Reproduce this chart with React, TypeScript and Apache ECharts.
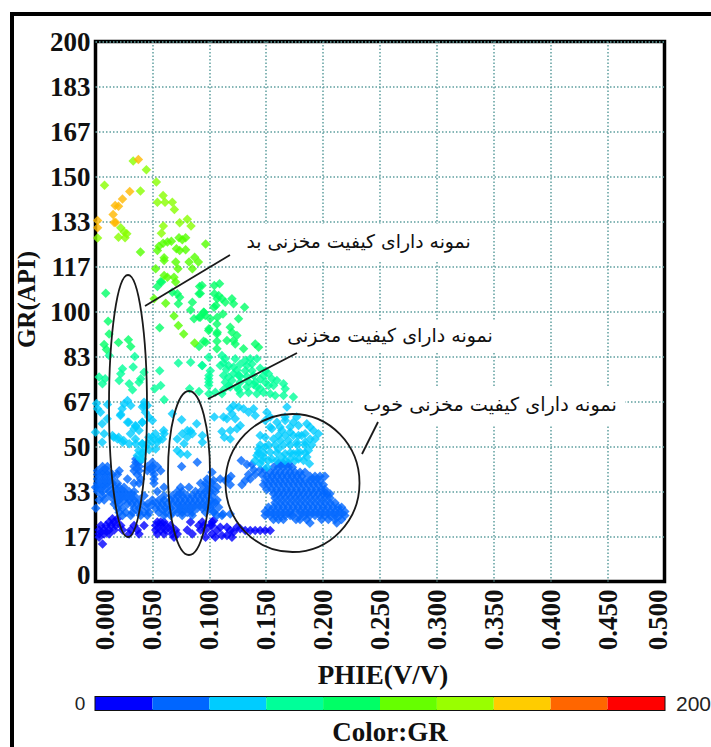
import React, { useEffect, useRef } from "react";
import * as echarts from "echarts";

const xLabelDigits = 3;
const yTickLabels = ["0", "17", "33", "50", "67", "83", "100", "117", "133", "150", "167", "183", "200"];
const colorBarColors = ["#0000ff", "#0066ff", "#00ccff", "#00ff99", "#00ff66", "#66ff00", "#99ff00", "#ffcc00", "#ff6600", "#ff0000"];
const colorBarStep = 20;
const texts = {
  bad: "نمونه دارای کیفیت مخزنی بد",
  mid: "نمونه دارای کیفیت مخزنی",
  good: "نمونه دارای کیفیت مخزنی خوب",
};

const orangePts = [[.0377,156.3],[.0301,144.4],[.0237,141.7],[.0173,139.3],[.0202,139],[.0155,135.9],[.0178,133],[.0164,133],[.0018,133.7],[.0018,131]];
const limeHighPts = [[.0331,155.7],[.0447,152.5],[.0535,148],[.0079,146.8],[.0395,144.6],[.0594,143],[.0544,140.5],[.0611,140.5],[.0675,140.5],[.0693,137.8],[.0807,134.2],[.074,132.9],[.0839,131.7],[.0596,131.7],[.0579,129],[.0222,131],[.0252,129.4],[.0275,128.8],[.026,127.3],[.0202,127.5],[.0018,127.2]];
const limePts = [[.0395,122],[.0734,127.3],[.0763,126.6],[.0792,127.3],[.0667,126],[.0632,125.7],[.0594,125.3],[.0558,124.2],[.0544,122.6],[.0968,125],[.0711,123.2],[.0792,122.9],[.074,122.6],[.0603,119.9],[.0603,118.9],[.0705,118.3],[.0822,118.3],[.0871,120.1],[.0904,118.3],[.0851,115.8],[.0725,115.8],[.0529,115.8],[.0603,113.3],[.0632,112.7],[.069,112.7],[.0515,104.7],[.0617,103.1],[.069,98.3],[.0728,94.8],[.0775,91.7],[.0871,88.3],[.0704,110.9]];
const greenPts = [[.0571,111],[.009,106.8],[.0544,109.3],[.0582,110.9],[.0719,106.6],[.0675,107.1],[.074,105.3],[.0728,102.9],[.091,106.6],[.0915,109.3],[.0851,103.4],[.0836,100.6],[.0953,99.7],[.091,97.9],[.0866,97.3],[.107,104.7],[.1041,101.6],[.107,97.9],[.0111,96.4],[.012,91.7],[.0564,94],[.0997,93.6],[.107,92.3],[.0289,89.5],[.0202,88.5],[.0076,87.8],[.0096,85.9],[.0968,88.6],[.031,87],[.091,87],[.109,110.3],[.1044,109.6],[.1044,106.6],[.1082,105.9],[.1111,104.7],[.114,103.4],[.1199,104.7],[.1213,102.9],[.0936,109.6],[.0921,106.7],[.1059,102.2],[.131,101.6],[.095,99.7],[.0921,97.9],[.0965,98.5],[.112,99.1],[.1257,97.3],[.1009,97.3],[.1067,95.4],[.1184,94.2],[.1199,92.3],[.0994,93],[.1067,91.7],[.1243,91.1],[.1213,89.3],[.095,89],[.1067,89],[.1155,89.3],[.1228,88],[.1404,88],[.1433,86.8],[.1301,86.2],[.1067,86.2]];
const aquaPts = [[.012,83.7],[.0345,83.3],[.0728,80.9],[.0836,81.2],[.0939,80],[.0237,78.8],[.0331,79.4],[.0222,76.9],[.0564,78.1],[.0427,77.5],[.0397,75.1],[.0032,75.7],[.0296,73.2],[.0383,73.8],[.0085,75.1],[.0061,73.2],[.0208,74.4],[.0325,71],[.052,71.4],[.0573,72.6],[.0997,76.3],[.0997,73.8],[.0827,71.4],[.091,70.4],[.0997,69.5],[.0603,67.3],[.0994,83.1],[.1111,83.7],[.114,82.5],[.1228,82.5],[.1316,81.9],[.136,82.5],[.1418,82.5],[.1096,80],[.1125,80.9],[.133,80],[.1375,80.6],[.1213,79.4],[.1243,78.2],[.1316,78.1],[.1375,78.1],[.1009,78.1],[.0936,80],[.1125,76.3],[.1169,75.7],[.1213,76.9],[.1257,76.3],[.133,75.9],[.1389,76.3],[.1476,76.3],[.152,76.9],[.0994,75.1],[.0994,72.6],[.114,73.8],[.1199,74.4],[.1272,73.8],[.1404,73.8],[.155,75.1],[.1491,73.8],[.1594,74.4],[.1184,72],[.1243,72],[.133,72],[.1418,72],[.152,72.6],[.1564,72.6],[.1652,73.2],[.1667,71.4],[.1053,70.1],[.1111,69.5],[.1272,69.5],[.1418,69.5],[.1535,69.5],[.1579,68.9],[.1652,68.9],[.1739,68.3],[.1125,71],[.1169,72.5],[.1257,71],[.1272,76],[.1345,74],[.1345,70],[.1447,71.5],[.1476,70],[.1491,78],[.1447,79],[.1169,80],[.1272,80.5],[.115,78.5],[.1389,73],[.1447,75]];
const skyPts = [[.0281,67],[.031,65.2],[.0252,65.8],[.0427,66.4],[.0456,65.2],[.0412,64.6],[.0105,65.6],[.0009,65.9],[.0018,64],[.0044,62.7],[.0103,60.3],[.0059,58.4],[0,55.3],[.0059,51.6],[.0219,61.5],[.0234,64],[.0292,59],[.0351,57.8],[.0161,53.4],[.0204,53.4],[.0248,52.2],[.0307,54.7],[.0351,52.8],[.0424,65.2],[.0439,62.7],[.041,59],[.0468,60.9],[.0526,54.7],[.0555,52.8],[.0468,53.4],[.0497,51.6],[.0599,55.9],[.041,51],[.038,48.5],[.041,47.3],[.0439,49.8],[.0395,45.4],[.0222,61.9],[.0281,59],[.0354,57.4],[.0339,56.6],[.0383,55.9],[.0412,59],[.05,59.6],[.0076,54.7],[.0149,54.1],[.0193,52.8],[.0237,51.6],[.0296,51],[.0354,51],[.0412,51],[.0456,51],[.0544,51.6],[.0603,54.7],[.05,53.4],[.0588,52.8],[.0471,48.8],[.0529,49.1],[.0412,47.9],[.0368,46.7],[.0412,45.4],[.0757,59.9],[.0889,58.4],[.0939,54.1],[.0939,51.6],[.0807,55.9],[.0763,54.7],[.0851,54.7],[.0719,52.8],[.0807,53.4],[.0836,55.7],[.0778,51],[.0719,48.5],[.0748,47.3],[.0807,47],[.0675,62.1],[.1257,64.6],[.1213,65.2],[.1199,62.1],[.1228,60.3],[.1184,64],[.1301,64],[.1345,62.7],[.1155,60.3],[.1125,60.9],[.1044,60.9],[.1272,57.8],[.1243,56.6],[.1184,55.9],[.1111,55.6],[.1132,53.4],[.1184,52.8],[.1389,64],[.1404,61.5],[.1506,62.7],[.1682,64.6],[.1491,59.6],[.1594,59],[.1667,59.6],[.1739,59],[.1784,57.8],[.1857,58.4],[.1915,55.9],[.1959,54.7],[.193,52.8],[.155,56.6],[.1638,55.9],[.1711,55.3],[.1784,54.1],[.1842,54.7],[.1491,53.4],[.1564,52.8],[.1623,52.2],[.1696,52.2],[.1769,51.6],[.1842,51.6],[.1886,52.8],[.1433,49.1],[.1491,49.8],[.1535,47.9],[.1608,49.1],[.1667,47.3],[.1739,47.3],[.1798,47.9],[.1871,48.5],[.1418,46.7],[.1476,46.1],[.155,45.4],[.1638,46.1],[.1711,45.4],[.1784,45.4],[.1857,46.1],[.1447,43.6],[.1506,42.3],[.188,43.6],[.1447,50.6],[.152,50.6],[.1578,50.6],[.1651,50.6],[.171,50.6],[.1774,50.6],[.1841,50.6],[.19,50.6],[.1432,47.7],[.1476,47.7],[.1593,47.7],[.171,47.7],[.1774,47.7],[.1841,47.7],[.1403,44.8],[.1462,44.8],[.152,44.8],[.1593,44.8],[.1666,44.8],[.1753,44.8],[.1827,44.8],[.1447,54.1],[.1608,54.1],[.1666,54.1],[.1739,54.1],[.1812,54.1],[.1535,57.2],[.1622,57.2],[.171,57.2],[.1885,57.2],[.1535,60.9],[.1666,60.9],[.1768,60.9]];

// [GR, [PHIE readings along that level]]
const midBlueRows: [number, number[]][] = [
  [45.4,[.0354]],
  [44.8,[.1281]],
  [44.2,[.0354,.0383,.05,.0894]],
  [43.8,[.1608,.1651,.1695]],
  [43.3,[.1331,.1375]],
  [42.6,[.0062,.0105,.0339,.0383,.0456,.05,.0543,.0757]],
  [42.3,[.1564,.1608,.1651,.1695,.173]],
  [41.4,[.1389,.1447,.1491]],
  [41,[.0018,.0062,.0105,.0208,.0339,.0383,.0456,.05,.0573]],
  [40.5,[.1535,.1578,.1622,.1666,.171,.1754,.1797,.1841,.1024]],
  [39.6,[.0018,.0062,.0105,.0149,.0193,.0368,.0514,.1345,.1404,.1462]],
  [39,[.1505,.1549,.1593,.1637,.1681,.1724,.1768,.1812,.1885,.1929,.1973,.2016,.119]],
  [38,[.0018,.0062,.0105,.0149,.0281,.0397,.0514,.0981,.136,.1096,.1167]],
  [37.4,[.1491,.1535,.1578,.1622,.1666,.171,.1754,.1797,.1841,.1885,.1929,.1973,.1316,.114,.1038]],
  [36.4,[.0018,.0062,.0105,.0149,.0193,.0339,.0383,.0514,.0923,.0967,.1025]],
  [35.8,[.1476,.152,.1564,.1608,.1651,.1695,.1739,.1783,.1826,.187,.1914,.1958,.2002,.1287,.1184]],
  [34.9,[0,.0018,.0062,.0105,.0164,.0208,.0251,.0602,.0748,.0821,.0967,.1011,.1069]],
  [34.1,[.1505,.1549,.1593,.1637,.1681,.1724,.1768,.1812,.1856,.19,.1943,.1987,.2016]],
  [33.3,[.0018,.0062,.012,.0164,.0208,.0251,.0295,.0339,.0543,.0719,.0762,.0879,.0923,.0967,.1011,.1053]],
  [32.5,[.1564,.1608,.1651,.1695,.1739,.1783,.1826,.187,.1914,.1958,.2002,.2032,.206]],
  [31.8,[.0062,.012,.0164,.0208,.0251,.0295,.0339,.0427,.0602,.0675,.0719,.0762,.0806,.085,.0894,.0938,.0981,.1025]],
  [30.9,[.1578,.1622,.1666,.171,.1754,.1797,.1841,.1885,.1929,.1973,.2016,.206]],
  [30.2,[.0032,.0076,.0164,.0208,.0251,.0295,.0339,.0383,.05,.0558,.0602,.066,.0704,.0748,.0792,.0835,.0879,.0923,.0967,.1011,.1069]],
  [29.2,[.1578,.1622,.1666,.171,.1754,.1797,.1841,.1885,.1929,.1973,.2016,.206,.2104,.1053]],
  [28.7,[.0164,.0208,.0281,.0324,.0368,.0412,.0456,.05,.0543,.0587,.0631,.0675,.0719,.0762,.0806,.085,.0894,.0938,.0981,.1025]],
  [27.5,[.152,.1564,.1608,.1651,.1695,.1739,.1783,.1826,.187,.1914,.1958,.2002,.2046,.209,.2133,.2162,.1082,.1009]],
  [27.1,[.0003,.0193,.0237,.0339,.0383,.0456,.0529,.0573,.0616,.066,.0719,.0762,.0806,.085,.0894,.0938,.0981]],
  [25.9,[.1491,.1535,.1578,.1622,.1666,.171,.1754,.1797,.1841,.1885,.1929,.1973,.2016,.206,.2104,.2147,.2191,.1038]],
  [25.6,[.0208,.0266,.0324,.0383,.0427,.047,.0558,.0616,.0675,.0719,.0762,.0806,.085,.0967,.1039]],
  [25,[.112,.1184]],
  [24.4,[.0237,.031,.0397,.0456,.0602,.066,.0762,.085,.1491,.1535,.1578,.1622,.1666,.171,.173,.1797,.1841,.1885,.1929,.1973,.2016,.206,.2104,.2147,.2191,.1067,.1111]],
  [23,[.1564,.1608,.1651,.1762,.1797,.1856,.1987,.2046,.2104,.2162]],
  [21.7,[.1885,.212]],
];
const deepBlueRows: [number, number[]][] = [
  [23.2,[.0149,.0193]],
  [22.6,[.1038]],
  [22,[.012,.0164,.0543,.0573,.0602,.0835,.0938,.1025]],
  [20.7,[.0047,.0091,.0135,.0178,.0222,.0339,.0427,.0529,.0573,.0616,.066,.0908,.0952,.101,.1024]],
  [20.1,[.1097,.1155,.1243]],
  [19.5,[.1272]],
  [19.1,[.0032,.0076,.012,.0164,.0237,.031,.0368,.0529,.0573,.0616,.066,.0704,.0806,.0923,.0967]],
  [18.9,[.1184,.1067,.1316,.136,.1403,.1447,.1491,.1535]],
  [18.3,[.1213]],
  [17.6,[.0032,.0076,.012,.0295,.0383,.0543,.0602,.0675,.0719,.085,.1024]],
  [17,[.1155,.1111]],
  [16.4,[.0032,.069,.0967,.1199,.1053]],
  [13.9,[.0062]],
];
const rowsToPoints = (rows: [number, number[]][]) => rows.flatMap(([gr, xs]) => xs.map((x) => [x, gr]));

const scatterSeries = [
  { color: "#0000ff", data: rowsToPoints(deepBlueRows) },
  { color: "#0066ff", data: rowsToPoints(midBlueRows) },
  { color: "#00ccff", data: skyPts },
  { color: "#00ff99", data: aquaPts },
  { color: "#00ff66", data: greenPts },
  { color: "#55ff00", data: limePts },
  { color: "#88ff00", data: limeHighPts },
  { color: "#ffb800", data: orangePts },
];

const serif = "'Liberation Serif', serif";
const arabic = "'DejaVu Sans', sans-serif";

export default function App() {
  const ref = useRef<HTMLDivElement>(null);
  useEffect(() => {
    const chart = echarts.init(ref.current!, undefined, { renderer: "svg" });
    const whiteBox = (x: number, y: number, width: number, height: number) => ({ type: "rect", z: 1, shape: { x, y, width, height }, style: { fill: "#fff" } });
    const note = (x: number, y: number, text: string, fontSize: number) => ({ type: "text", z: 10, x, y, style: { text, fontFamily: arabic, fontSize, fill: "#111", textAlign: "center", textVerticalAlign: "middle" } });
    const stroke = { stroke: "#1a1a1a", lineWidth: 1.8, fill: "none" };
    const tickFont = { fontFamily: serif, fontWeight: "bold" as const, fontSize: 27, color: "#111" };
    chart.setOption({
      animation: false,
      backgroundColor: "#fff",
      grid: [
        { left: 95.5, top: 41.5, width: 569, height: 540, show: true, borderColor: "#000", borderWidth: 3.5, backgroundColor: "transparent" },
        { left: 95.5, top: 697, width: 569, height: 13, show: true, borderColor: "#111", borderWidth: 2, backgroundColor: "transparent" },
      ],
      xAxis: [
        {
          type: "value", gridIndex: 0, min: 0, max: 0.5, interval: 0.05,
          name: "PHIE(V/V)", nameLocation: "middle", nameGap: 80,
          nameTextStyle: { fontFamily: serif, fontWeight: "bold", fontSize: 27, color: "#111", padding: [0, 0, 0, 6] },
          axisLine: { show: false }, axisTick: { show: false },
          axisLabel: {
            rotate: 90, margin: 8, ...tickFont,
            formatter: (v: number) => {
              const s = v.toFixed(xLabelDigits);
              if (v < 0.001) return `{lo|${s}}`;
              if (v > 0.499) return `{hi|${s}}`;
              return s;
            },
            rich: { lo: { ...tickFont, padding: [18, 0, 0, 0] }, hi: { ...tickFont, padding: [0, 0, 14, 0] } },
          },
          splitLine: { show: true, showMinLine: false, showMaxLine: false, lineStyle: { color: "#5f9f9f", width: 1.5, type: [1.5, 2] } },
        },
        { type: "value", gridIndex: 1, min: 0, max: 200, interval: 20, axisLine: { show: false }, axisTick: { show: false }, axisLabel: { show: false }, splitLine: { show: false } },
      ],
      yAxis: [
        {
          type: "value", gridIndex: 0, min: 0, max: 200, interval: 200 / 12,
          name: "GR(API)", nameLocation: "middle", nameGap: 56, nameRotate: 90,
          nameTextStyle: { fontFamily: serif, fontWeight: "bold", fontSize: 25, color: "#111", padding: [0, 0, 0, 24] },
          axisLine: { show: false }, axisTick: { show: false },
          axisLabel: {
            margin: 5, ...tickFont,
            formatter: (v: number) => {
              const s = yTickLabels[Math.round(v / (200 / 12))];
              return v < 1 ? `{lo|${s}}` : s;
            },
            rich: { lo: { ...tickFont, padding: [0, 0, 14, 0] } },
          },
          splitLine: { show: true, showMinLine: false, showMaxLine: false, lineStyle: { color: "#5f9f9f", width: 1.5, type: [1.5, 2] } },
        },
        { type: "category", gridIndex: 1, data: ["GR"], axisLine: { show: false }, axisTick: { show: false }, axisLabel: { show: false } },
      ],
      series: [
        ...scatterSeries.map((s) => ({
          type: "scatter", xAxisIndex: 0, yAxisIndex: 0, symbol: "diamond", symbolSize: 9.5,
          itemStyle: { color: s.color }, data: s.data, z: 3, silent: true,
        })),
        ...colorBarColors.map((c) => ({
          type: "bar", xAxisIndex: 1, yAxisIndex: 1, stack: "bar", barWidth: "100%", silent: true,
          itemStyle: { color: c }, data: [colorBarStep],
        })),
      ],
      graphic: [
        { type: "rect", z: 12, shape: { x: 10, y: 12, width: 701, height: 4 }, style: { fill: "#000" } },
        { type: "rect", z: 12, shape: { x: 10, y: 12, width: 4, height: 735 }, style: { fill: "#000" } },
        whiteBox(243, 224, 232, 36),
        whiteBox(285, 320, 213, 33),
        whiteBox(353, 387, 272, 39),
        note(358.5, 241, texts.bad, 18.8),
        note(390, 335, texts.mid, 19),
        note(490, 404, texts.good, 19.2),
        { type: "ellipse", z: 10, shape: { cx: 128, cy: 406, rx: 19, ry: 131 }, style: stroke },
        { type: "ellipse", z: 10, shape: { cx: 189, cy: 473, rx: 21, ry: 82 }, style: stroke },
        { type: "ellipse", z: 10, shape: { cx: 292.5, cy: 483, rx: 67, ry: 69 }, style: stroke },
        { type: "line", z: 10, shape: { x1: 145, y1: 306, x2: 230, y2: 255 }, style: stroke },
        { type: "line", z: 10, shape: { x1: 208, y1: 399, x2: 297, y2: 353 }, style: stroke },
        { type: "line", z: 10, shape: { x1: 362, y1: 454, x2: 378, y2: 422 }, style: stroke },
        { type: "text", z: 10, x: 80, y: 703, style: { text: "0", fontFamily: "'Liberation Sans', sans-serif", fontSize: 19, fill: "#222", textAlign: "center", textVerticalAlign: "middle" } },
        { type: "text", z: 10, x: 676, y: 703, style: { text: "200", fontFamily: "'Liberation Sans', sans-serif", fontSize: 21, fill: "#222", textAlign: "left", textVerticalAlign: "middle" } },
        { type: "text", z: 10, x: 390, y: 732, style: { text: "Color:GR", fontFamily: serif, fontWeight: "bold", fontSize: 27, fill: "#111", textAlign: "center", textVerticalAlign: "middle" } },
      ],
    });
    return () => chart.dispose();
  }, []);
  return <div ref={ref} style={{ position: "absolute", left: 0, top: 0, width: 711, height: 747 }} />;
}
